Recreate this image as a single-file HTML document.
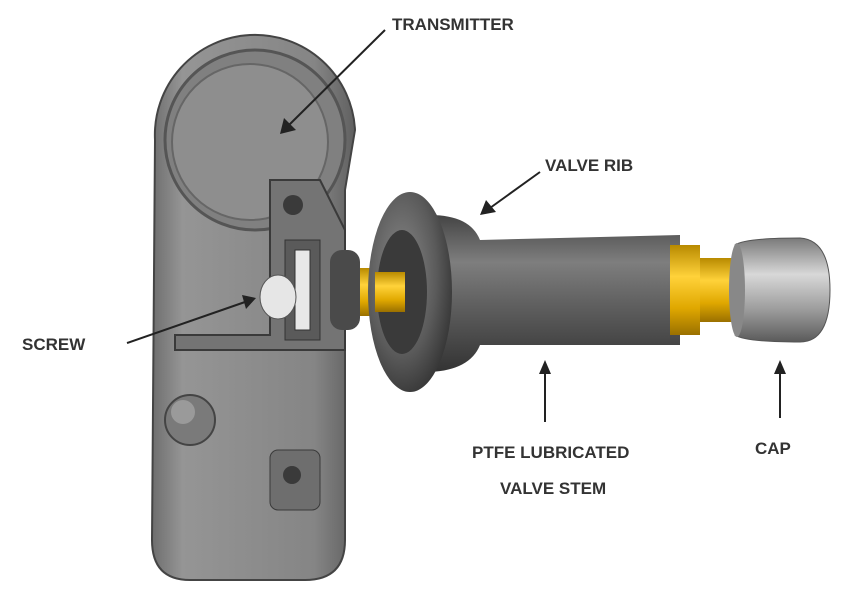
<!DOCTYPE html>
<html><head><meta charset="utf-8"><style>
html,body{margin:0;padding:0;background:#fff;}
svg{display:block;}
text{font-family:"Liberation Sans",sans-serif;font-weight:bold;font-size:17px;fill:#333;}
</style></head><body>
<svg width="860" height="594" viewBox="0 0 860 594" xmlns="http://www.w3.org/2000/svg">
<defs>
<linearGradient id="body" x1="0" x2="1" y1="0" y2="0">
<stop offset="0" stop-color="#6e6e6e"/><stop offset="0.15" stop-color="#959595"/><stop offset="0.8" stop-color="#858585"/><stop offset="1" stop-color="#606060"/></linearGradient>
<linearGradient id="stem" x1="0" x2="0" y1="0" y2="1">
<stop offset="0" stop-color="#444"/><stop offset="0.3" stop-color="#7e7e7e"/><stop offset="0.55" stop-color="#626262"/><stop offset="1" stop-color="#333"/></linearGradient>
<linearGradient id="brass" x1="0" x2="0" y1="0" y2="1">
<stop offset="0" stop-color="#b88a00"/><stop offset="0.35" stop-color="#ffd23a"/><stop offset="0.7" stop-color="#e0a800"/><stop offset="1" stop-color="#9a7000"/></linearGradient>
<linearGradient id="cap" x1="0" x2="0" y1="0" y2="1">
<stop offset="0" stop-color="#7a7a7a"/><stop offset="0.35" stop-color="#d8d8d8"/><stop offset="0.7" stop-color="#9a9a9a"/><stop offset="1" stop-color="#5a5a5a"/></linearGradient>
<radialGradient id="rib" cx="0.4" cy="0.4" r="0.7">
<stop offset="0" stop-color="#8a8a8a"/><stop offset="0.6" stop-color="#5a5a5a"/><stop offset="1" stop-color="#2e2e2e"/></radialGradient>
</defs>
<path d="M155,140 A100,100 0 0 1 355,130 L345,190 L345,540 Q345,580 305,580 L190,580 Q152,580 152,540 Z" fill="url(#body)" stroke="#444" stroke-width="2"/>
<circle cx="255" cy="140" r="90" fill="#808080" stroke="#555" stroke-width="3"/>
<circle cx="250" cy="142" r="78" fill="#8e8e8e" stroke="#666" stroke-width="2"/>
<path d="M270,180 L320,180 L345,230 L345,350 L175,350 L175,335 L270,335 Z" fill="#747474" stroke="#3a3a3a" stroke-width="2"/>
<rect x="285" y="240" width="35" height="100" fill="#5a5a5a" stroke="#333"/>
<rect x="295" y="250" width="15" height="80" fill="#e8e8e8" stroke="#333"/>
<circle cx="293" cy="205" r="10" fill="#3a3a3a"/>
<ellipse cx="278" cy="297" rx="18" ry="22" fill="#e6e6e6" stroke="#555"/>
<rect x="330" y="250" width="30" height="80" rx="12" fill="#4a4a4a"/>
<circle cx="190" cy="420" r="25" fill="#7a7a7a" stroke="#444" stroke-width="2"/>
<circle cx="183" cy="412" r="12" fill="#9a9a9a"/>
<rect x="270" y="450" width="50" height="60" rx="8" fill="#6e6e6e" stroke="#3a3a3a"/>
<circle cx="292" cy="475" r="9" fill="#3a3a3a"/>
<rect x="360" y="268" width="60" height="48" fill="url(#brass)"/>
<path d="M430,215 Q470,215 480,240 L680,235 L680,345 L480,345 Q470,370 430,372 Z" fill="url(#stem)"/>
<ellipse cx="410" cy="292" rx="42" ry="100" fill="url(#rib)"/>
<ellipse cx="402" cy="292" rx="25" ry="62" fill="#3a3a3a"/>
<rect x="375" y="272" width="30" height="40" fill="url(#brass)"/>
<rect x="670" y="245" width="30" height="90" fill="url(#brass)"/>
<rect x="700" y="258" width="40" height="64" fill="url(#brass)"/>
<path d="M735,245 Q745,238 800,238 Q830,240 830,290 Q830,342 800,342 Q745,342 735,335 Z" fill="url(#cap)" stroke="#555"/>
<ellipse cx="737" cy="290" rx="8" ry="47" fill="#888"/>
<text x="392" y="30">TRANSMITTER</text>
<text x="545" y="171">VALVE RIB</text>
<text x="22" y="350">SCREW</text>
<text x="472" y="458">PTFE LUBRICATED</text>
<text x="500" y="494">VALVE STEM</text>
<text x="755" y="454">CAP</text>
<g stroke="#222" stroke-width="2" fill="#222">
<line x1="385" y1="30" x2="288" y2="126"/><polygon points="280,134 284,118 296,130" stroke="none"/>
<line x1="540" y1="172" x2="490" y2="208"/><polygon points="480,215 486,200 496,212" stroke="none"/>
<line x1="127" y1="343" x2="245" y2="302"/><polygon points="256,298 242,295 246,309" stroke="none"/>
<line x1="545" y1="422" x2="545" y2="372"/><polygon points="545,360 539,374 551,374" stroke="none"/>
<line x1="780" y1="418" x2="780" y2="372"/><polygon points="780,360 774,374 786,374" stroke="none"/>
</g>
</svg>
</body></html>
